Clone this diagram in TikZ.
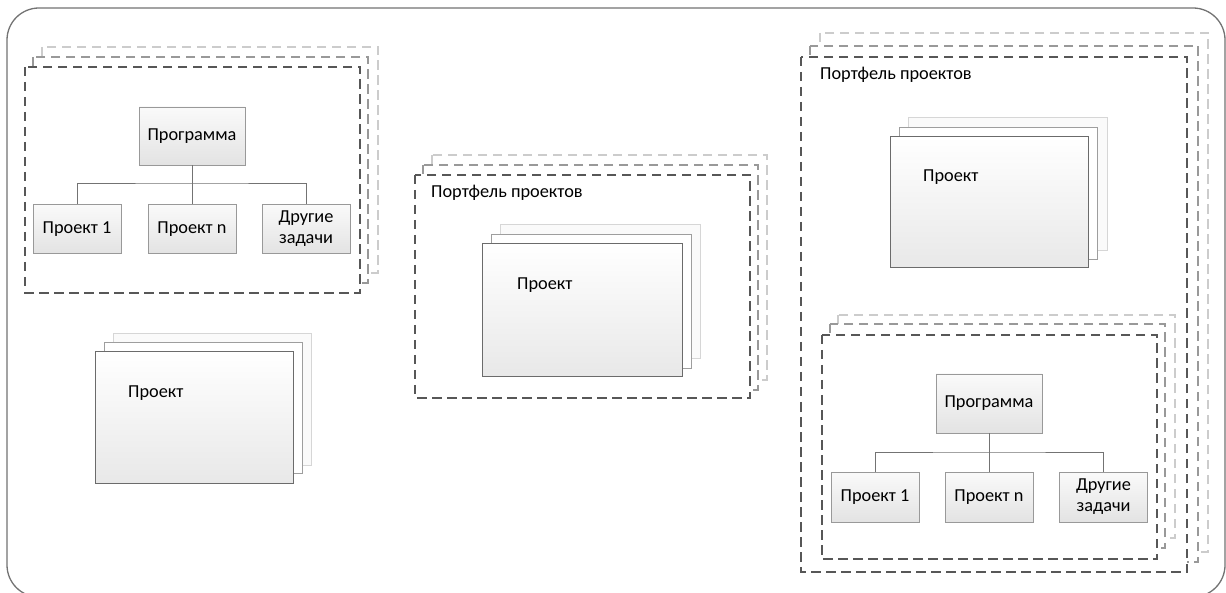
\documentclass[tikz,border=0pt]{standalone}
\usepackage{fontspec}
\setmainfont{Carlito}
\begin{document}
\begin{tikzpicture}[x=1pt,y=-1pt,
  outer/.style={draw=black!55, line width=1.3pt, rounded corners=32pt},
  frameA/.style={draw=black!66, dash pattern=on 9.5pt off 5.5pt, line width=1.3pt, fill=white},
  frameB/.style={draw=black!40, dash pattern=on 9.5pt off 5.5pt, line width=1.2pt, fill=white},
  frameC/.style={draw=black!20, dash pattern=on 9.5pt off 5.5pt, line width=1.2pt, fill=white},
  stackA/.style={draw=black!58, line width=1pt, top color=white, bottom color=black!9},
  stackB/.style={draw=black!38, line width=0.9pt, fill=white},
  stackC/.style={draw=black!16, line width=0.9pt, fill=black!2},
  txt/.style={font=\fontsize{18.3}{21}\selectfont, inner sep=0pt, anchor=west},
  progbox/.style={draw=black!40, line width=0.9pt, top color=black!2, bottom color=black!11,
    minimum width=106pt, minimum height=58pt, inner sep=0pt, font=\fontsize{18.3}{21}\selectfont},
  childbox/.style={progbox, minimum width=88pt, minimum height=49pt, align=center},
  conn/.style={draw=black!55, line width=0.9pt}
]
\useasboundingbox (0,0) rectangle (1226,593);
\fill[white] (0,0) rectangle (1226,593);
\draw[outer] (7,8) rectangle (1225,597);

% ---- left: programme group
\draw[frameC] (42,47) rectangle (378,273);
\draw[frameB] (33,57) rectangle (368,283);
\draw[frameA] (25,67) rectangle (360,293);
\node[progbox] (lp) at (192,136) {Программа};
\node[childbox] (l1) at (77,229) {Проект 1};
\node[childbox] (ln) at (192,229) {Проект n};
\node[childbox] (lo) at (306,229) {Другие\\задачи};
\coordinate (lbar) at (192,183);
\draw[conn] (lp.south) -- (lbar);
\draw[conn] (l1.north) |- (lbar) -| (lo.north);
\draw[conn] (ln.north) -- (lbar);

% ---- left: project stack
\draw[stackC] (113,333) rectangle (311,465);
\draw[stackB] (104,342) rectangle (302,473);
\draw[stackA] (95,352) rectangle (293,483);
\node[txt] (lproj) at (128,393) {Проект};

% ---- middle: portfolio
\draw[frameC] (432,155) rectangle (767,380);
\draw[frameB] (423,165) rectangle (758,390);
\draw[frameA] (415,175) rectangle (750,398);
\node[txt] (mport) at (431,193) {Портфель проектов};
\draw[stackC] (500,224) rectangle (700,358);
\draw[stackB] (491,234) rectangle (691,368);
\draw[stackA] (482,244) rectangle (682,377);
\node[txt] (mproj) at (517,285) {Проект};

% ---- right: portfolio
\draw[frameC] (820,33) rectangle (1208,552);
\draw[frameB] (810,46) rectangle (1198,562);
\draw[frameA] (801,57) rectangle (1187,572);
\node[txt] (rport) at (820,75) {Портфель проектов};
\draw[stackC] (908,117) rectangle (1107,250);
\draw[stackB] (899,127) rectangle (1097,259);
\draw[stackA] (890,137) rectangle (1088,268);
\node[txt] (rproj) at (923,177) {Проект};

% ---- right: inner programme group
\draw[frameC] (838,315) rectangle (1175,538);
\draw[frameB] (830,324) rectangle (1165,548);
\draw[frameA] (822,335) rectangle (1157,559);
\node[progbox, minimum height=59pt] (rp) at (989,403.5) {Программа};
\node[childbox, minimum height=50pt] (r1) at (875,497) {Проект 1};
\node[childbox, minimum height=50pt] (rn) at (989,497) {Проект n};
\node[childbox, minimum height=50pt] (ro) at (1103.5,497) {Другие\\задачи};
\coordinate (rbar) at (989,452);
\draw[conn] (rp.south) -- (rbar);
\draw[conn] (r1.north) |- (rbar) -| (ro.north);
\draw[conn] (rn.north) -- (rbar);
\end{tikzpicture}
\end{document}
